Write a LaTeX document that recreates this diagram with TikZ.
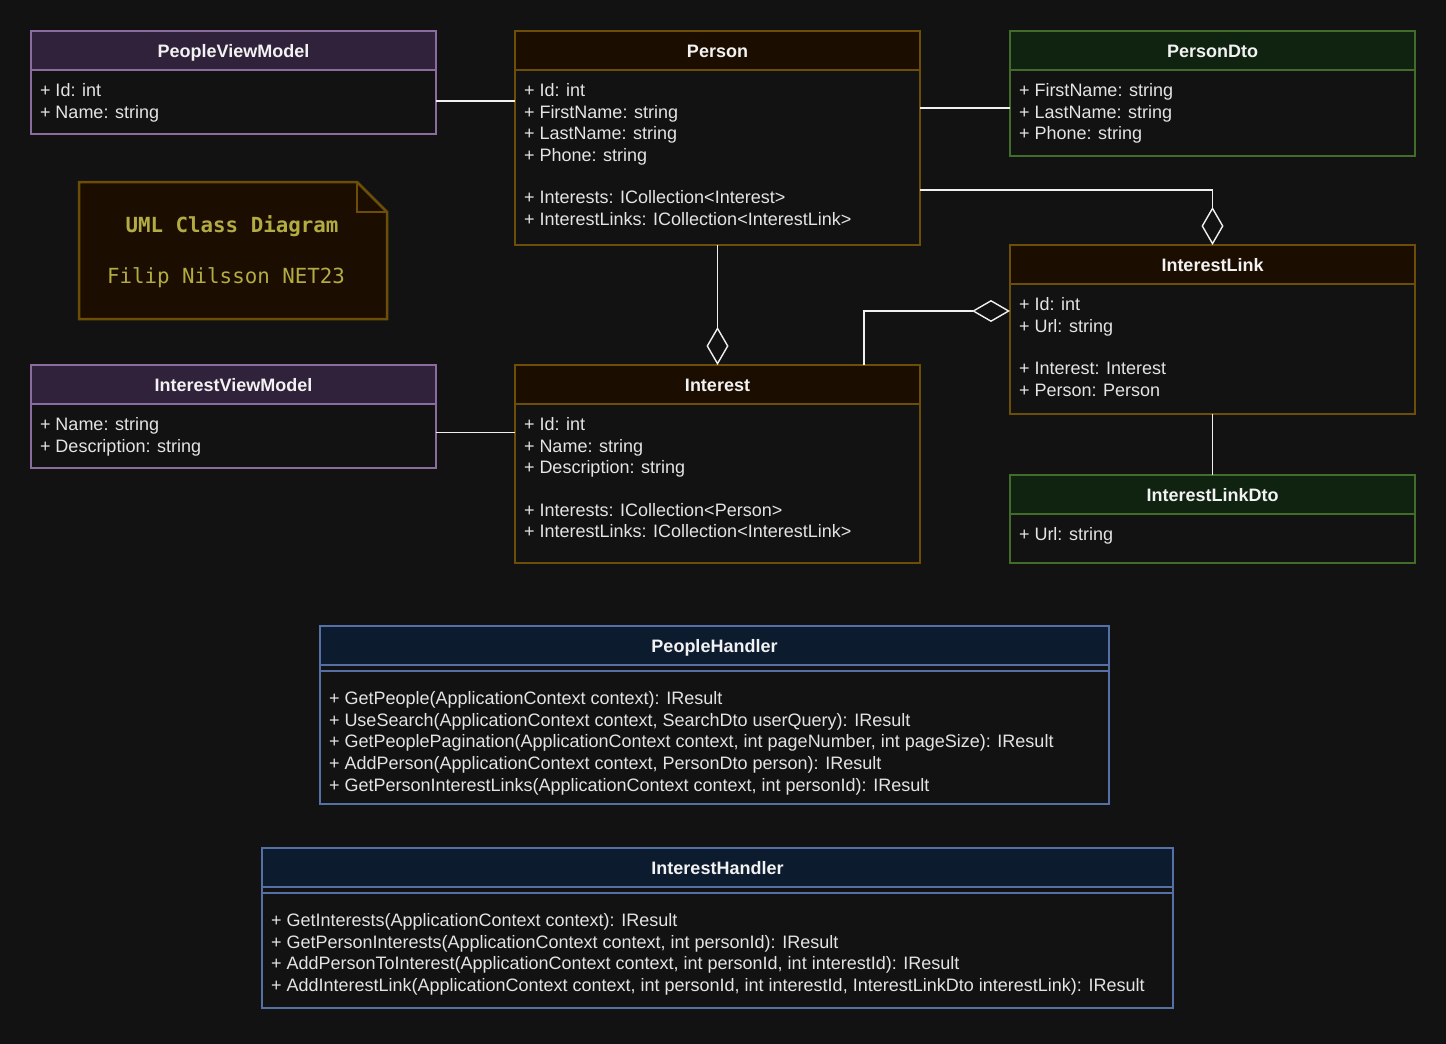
\documentclass[tikz,border=0pt]{standalone}
\usepackage{fontspec}
\setmainfont{Liberation Sans}
\newfontfamily\notefont{DejaVu Sans Mono}
\usetikzlibrary{arrows.meta}
\definecolor{bgc}{RGB}{18,18,18}
\definecolor{txt}{RGB}{228,228,228}
\definecolor{ttl}{RGB}{242,242,242}
\definecolor{purB}{RGB}{140,108,158}
\definecolor{purH}{RGB}{48,34,58}
\definecolor{brnB}{RGB}{108,78,8}
\definecolor{brnH}{RGB}{27,13,0}
\definecolor{grnB}{RGB}{66,108,42}
\definecolor{grnH}{RGB}{16,34,16}
\definecolor{bluB}{RGB}{84,112,166}
\definecolor{bluH}{RGB}{12,27,46}
\definecolor{noteT}{RGB}{178,172,66}
\definecolor{lineC}{RGB}{240,240,240}
\tikzset{
  box/.style={draw=#1, line width=1.2pt, inner sep=0pt, outer sep=0pt, anchor=north west, fill=bgc},
  hdr/.style={draw=#1B, fill=#1H, line width=1.2pt, inner sep=0pt, outer sep=0pt, anchor=north west,
    minimum height=39pt, text=ttl, font=\fontsize{18}{21.7}\selectfont\bfseries, text height=13pt, text depth=0pt},
  body/.style={anchor=north west, inner sep=0pt, outer sep=0pt, align=left, text=txt,
    font=\fontsize{18}{21.7}\selectfont},
  conn/.style={draw=lineC, line width=1.4pt},
  dia/.style={-{Diamond[length=38pt, width=22pt, fill=bgc]}},
}
\newcommand\umlclass[7]{%
  \node[box=#6B, minimum width=#4, minimum height=#5] (#1) at (#2,#3) {};
  \node[hdr=#6, minimum width=#4] (#1-h) at (#1.north west) {#7};
}
\begin{document}
\begin{tikzpicture}[x=1pt,y=-1pt]
\fill[bgc] (0,0) rectangle (1446,1044);
\useasboundingbox (0,0) rectangle (1446,1044);

% classes
\umlclass{pvm}{31}{31}{405}{103}{pur}{PeopleViewModel}
\node[body] (pvm-b) at ([shift={(9,52.5)}]pvm.north west) {+ Id: int\\+ Name: string};

\umlclass{person}{515}{31}{405}{214}{brn}{Person}
\node[body] (person-b) at ([shift={(9,52.5)}]person.north west)
  {+ Id: int\\+ FirstName: string\\+ LastName: string\\+ Phone: string\\[20.5pt]+ Interests: ICollection<Interest>\\+ InterestLinks: ICollection<InterestLink>};

\umlclass{pdto}{1010}{31}{405}{125}{grn}{PersonDto}
\node[body] (pdto-b) at ([shift={(9,52.5)}]pdto.north west)
  {+ FirstName: string\\+ LastName: string\\+ Phone: string};

\umlclass{ivm}{31}{365}{405}{103}{pur}{InterestViewModel}
\node[body] (ivm-b) at ([shift={(9,52.5)}]ivm.north west) {+ Name: string\\+ Description: string};

\umlclass{interest}{515}{365}{405}{198}{brn}{Interest}
\node[body] (interest-b) at ([shift={(9,52.5)}]interest.north west)
  {+ Id: int\\+ Name: string\\+ Description: string\\[20.5pt]+ Interests: ICollection<Person>\\+ InterestLinks: ICollection<InterestLink>};

\umlclass{il}{1010}{245}{405}{169}{brn}{InterestLink}
\node[body] (il-b) at ([shift={(9,52.5)}]il.north west)
  {+ Id: int\\+ Url: string\\[20.5pt]+ Interest: Interest\\+ Person: Person};

\umlclass{ildto}{1010}{475}{405}{88}{grn}{InterestLinkDto}
\node[body] (ildto-b) at ([shift={(9,52)}]ildto.north west) {+ Url: string};

\umlclass{ph}{320}{626}{789}{178}{blu}{PeopleHandler}
\draw[bluB, line width=1.2pt] ([yshift=-45pt]ph.north west) -- ([yshift=-45pt]ph.north east);
\node[body] (ph-b) at ([shift={(9,65.5)}]ph.north west)
  {+ GetPeople(ApplicationContext context): IResult\\
   + UseSearch(ApplicationContext context, SearchDto userQuery): IResult\\
   + GetPeoplePagination(ApplicationContext context, int pageNumber, int pageSize): IResult\\
   + AddPerson(ApplicationContext context, PersonDto person): IResult\\
   + GetPersonInterestLinks(ApplicationContext context, int personId): IResult};

\umlclass{ih}{262}{848}{911}{160}{blu}{InterestHandler}
\draw[bluB, line width=1.2pt] ([yshift=-45pt]ih.north west) -- ([yshift=-45pt]ih.north east);
\node[body] (ih-b) at ([shift={(9,65.5)}]ih.north west)
  {+ GetInterests(ApplicationContext context): IResult\\
   + GetPersonInterests(ApplicationContext context, int personId): IResult\\
   + AddPersonToInterest(ApplicationContext context, int personId, int interestId): IResult\\
   + AddInterestLink(ApplicationContext context, int personId, int interestId, InterestLinkDto interestLink): IResult};

% note
\node[inner sep=0pt, outer sep=0pt, anchor=north west, minimum width=308, minimum height=137] (note) at (79,182) {};
\draw[draw=brnB, fill=brnH, line width=2.5pt, line join=miter]
  (note.north west) -- ([xshift=-30pt]note.north east) -- ([yshift=-30pt]note.north east)
  -- (note.south east) -- (note.south west) -- cycle;
\draw[draw=brnB, line width=2.5pt] ([xshift=-30pt]note.north east) |- ([yshift=-30pt]note.north east);
\node[text=noteT, font=\notefont\fontsize{20.8}{24}\selectfont\bfseries, inner sep=0pt] (note-t) at (232,226) {UML Class Diagram};
\node[text=noteT, font=\notefont\fontsize{20.8}{24}\selectfont, inner sep=0pt] (note-s) at (226,278) {Filip Nilsson NET23};

% connectors
\draw[conn] ([yshift=-18.5pt]pvm.east) -- ([yshift=37pt]person.west);
\draw[conn] ([yshift=30pt]person.east) -- ([yshift=-14.5pt]pdto.west);
\draw[conn] ([yshift=-16pt]ivm.east) -- ([yshift=31.5pt]interest.west);
\draw[conn, dia] ([yshift=-52pt]person.east) -| (il.north);
\draw[conn, dia] (person.south) -- (interest.north);
\draw[conn, dia] ([xshift=-56pt]interest.north east) |- ([yshift=18.5pt]il.west);
\draw[conn] (il.south) -- (ildto.north);
\end{tikzpicture}
\end{document}
